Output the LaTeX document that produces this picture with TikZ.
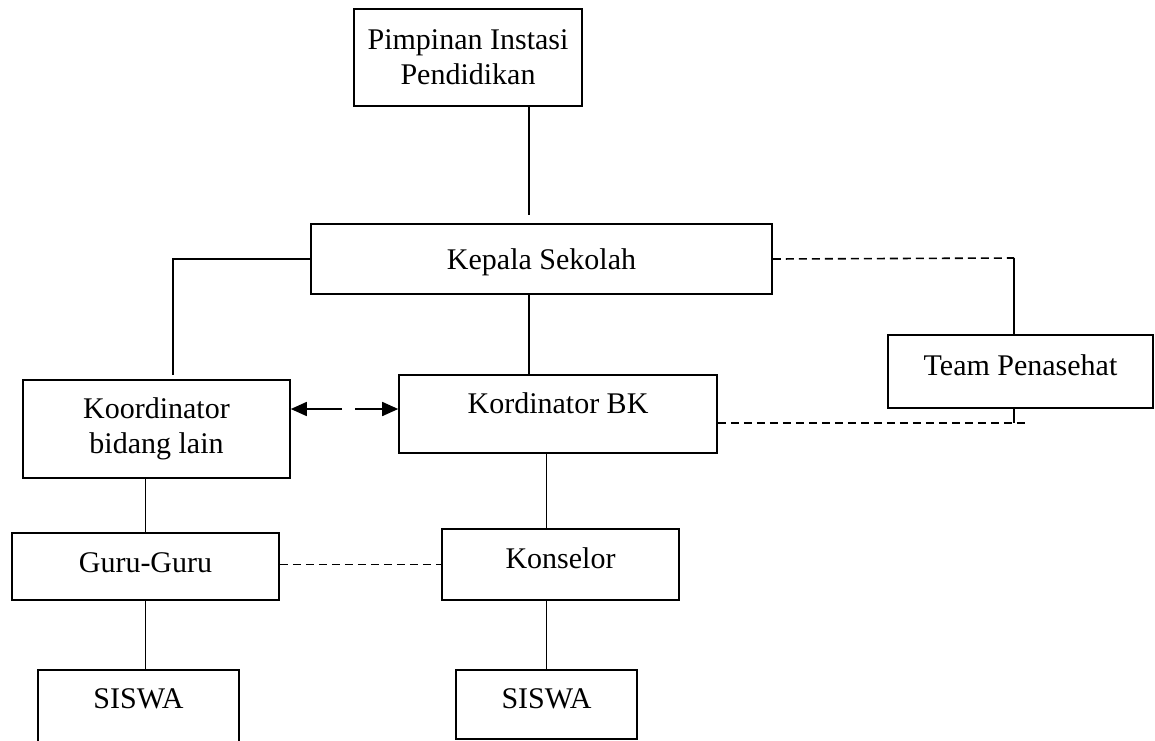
\documentclass[tikz,border=0pt]{standalone}
\usepackage{fontspec}
\setmainfont{Liberation Serif}
\usetikzlibrary{arrows.meta}
\tikzset{
  blk/.style={draw, line width=.8pt, align=center, inner sep=0pt, font=\fontsize{15}{17.5}\selectfont},
  blks/.style={blk, text height=14pt, text depth=#1},
  blks/.default=3.5pt,
  wh/.style 2 args={minimum width=#1*.5pt, minimum height=#2*.5pt},
  ln/.style={line width=.8pt},
  dsh/.style={line width=.8pt, dash pattern=on 4pt off 2.5pt},
  ar/.style={-{Triangle[length=8pt,width=7pt]}, line width=.8pt},
}

\begin{document}
\begin{tikzpicture}[x=.5pt, y=-.5pt]
  \useasboundingbox (0,0) rectangle (1155,740);
  \clip (0,0) rectangle (1155,740);

  \node[blk, wh={228}{97}] (pim) at (468,57.5) {Pimpinan Instasi\\Pendidikan};
  \node[blks, wh={461}{70}] (kep) at (541.5,259) {Kepala Sekolah};
  \node[blk, wh={267}{98}] (kor) at (156.5,429) {Koordinator\\bidang lain};
  \node[blks=14.5pt, wh={318}{78}] (bk) at (558,414) {Kordinator BK};
  \node[blks=10pt, wh={265}{73}] (team) at (1020.5,371.5) {Team Penasehat};
  \node[blks=8pt, wh={267}{67}] (guru) at (145.5,566.5) {Guru-Guru};
  \node[blks=10pt, wh={237}{71}] (kons) at (560.5,564.5) {Konselor};
  \node[blks=25.5pt, wh={201}{100}] (sis1) at (138.5,720) {SISWA};
  \node[blks=10pt, wh={181}{69}] (sis2) at (546.5,704.5) {SISWA};

  \coordinate (pimend) at (529,215);
  \coordinate (korend) at (173,375);
  \coordinate (teamtop) at (1014,258);
  \coordinate (bkend) at (1027,423);
  \coordinate (arrl) at (342,409);
  \coordinate (arrr) at (355,409);

  \draw[ln] (pim.south -| pimend) -- (pimend);
  \draw[ln] (kep.west) -| (korend);
  \draw[ln] (kep.south -| pimend) -- (bk.north -| pimend);
  \draw[dsh] (kep.east) -- (teamtop);
  \draw[ln] (teamtop) -- (teamtop |- team.north);
  \draw[dsh] (bk.east |- bkend) -- (bkend);
  \draw[ln] (team.south -| teamtop) -- (teamtop |- bkend);
  \draw[ar] (arrl) -- (kor.east |- arrl);
  \draw[ar] (arrr) -- (bk.west |- arrr);
  \draw[ln] (guru.north |- kor.south) -- (guru.north);
  \draw[ln] (guru.south) -- (guru.south |- sis1.north);
  \draw[ln] (bk.south -| sis2.north) -- (kons.north -| sis2.north);
  \draw[ln] (kons.south -| sis2.north) -- (sis2.north);
  \draw[dsh] (guru.east |- kons.west) -- (kons.west);
\end{tikzpicture}
\end{document}
